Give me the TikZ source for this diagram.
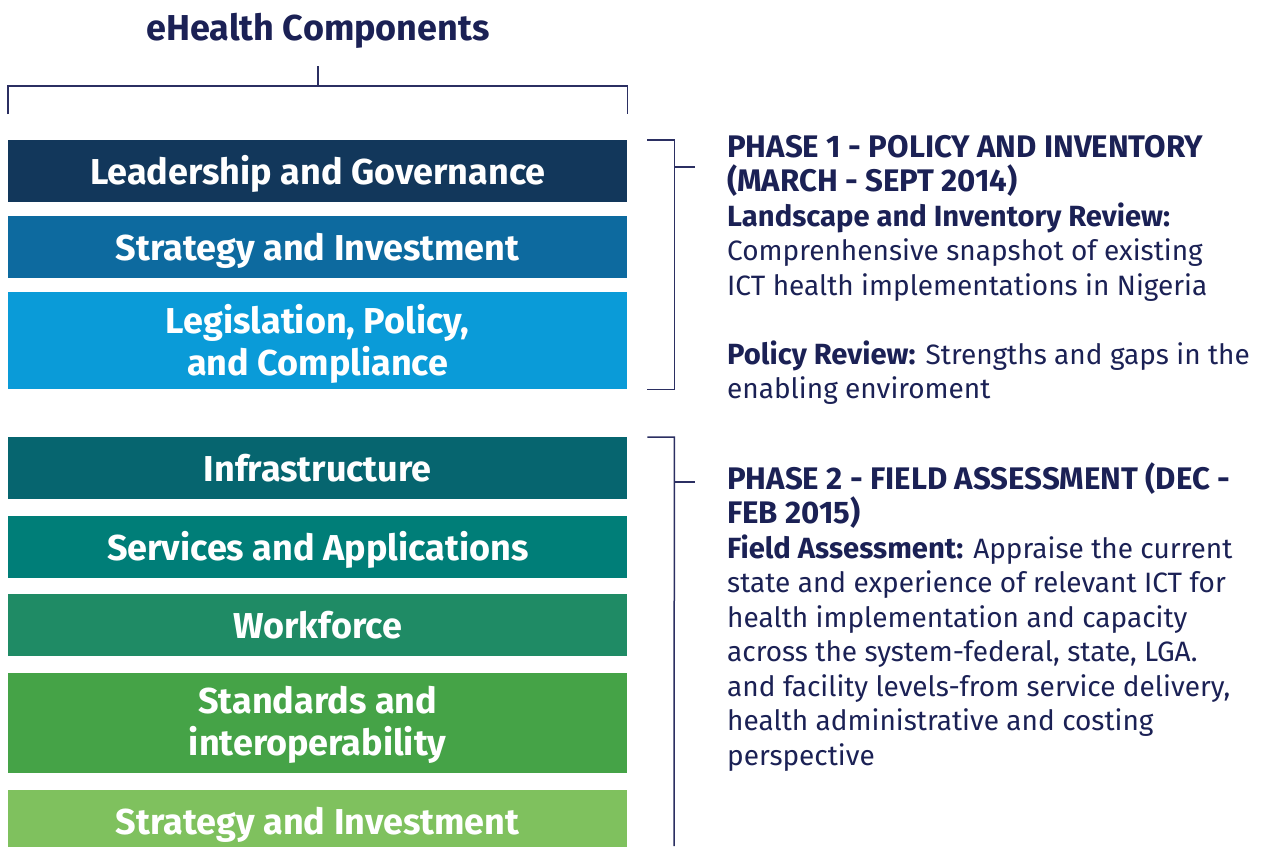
\documentclass[tikz,border=0pt]{standalone}
\usepackage{fontspec}
\setmainfont{Fira Sans}
\usetikzlibrary{calc}
\definecolor{navy}{HTML}{1B2155}
\definecolor{lineclr}{HTML}{2B2F62}
\definecolor{cA}{HTML}{12375B}
\definecolor{cB}{HTML}{0D6A9F}
\definecolor{cC}{HTML}{0A9BD8}
\definecolor{cD}{HTML}{06656F}
\definecolor{cE}{HTML}{007E78}
\definecolor{cF}{HTML}{1F8B65}
\definecolor{cG}{HTML}{45A347}
\definecolor{cH}{HTML}{7FC15E}
\newcommand{\hd}[1]{{\fontsize{31.2}{34.45}\selectfont\bfseries #1}}
\newcommand{\bd}[1]{{\fontsize{29.2}{34.45}\selectfont\bfseries #1}}
\begin{document}
\begin{tikzpicture}[x=1pt,y=-1pt,
  box/.style={anchor=north west, minimum width=619pt, inner sep=0pt, text=white,
    font=\bfseries\fontsize{36}{42}\selectfont, align=center},
  onebox/.style={box, minimum height=62pt, text height=26pt, text depth=0pt},
  bline/.style={draw=lineclr, line width=1.5pt},
  phase/.style={anchor=north west, inner sep=0pt, align=left, text=navy,
    font=\fontsize{28}{34.45}\selectfont}
]
\useasboundingbox (0,0) rectangle (1268,846);
\fill[white] (0,0) rectangle (1268,846);

\node[anchor=base, text=navy, font=\bfseries\fontsize{36}{40}\selectfont, inner sep=0pt] (title) at (318,40) {eHealth Components};

\node[onebox, fill=cA] (b1) at (8,140) {Leadership and Governance};
\node[onebox, fill=cB] (b2) at (8,216) {Strategy and Investment};
\node[box, fill=cC, minimum height=97pt] (b3) at (8,292) {\rule{0pt}{36pt}Legislation, Policy,\\and Compliance};
\node[box, fill=cG, minimum height=100pt] (b7) at (8,673) {\rule{0pt}{31pt}Standards and\\interoperability};
\node[onebox, fill=cD] (b4) at (8,437) {Infrastructure};
\node[onebox, fill=cE] (b5) at (8,516) {Services and Applications};
\node[onebox, fill=cF] (b6) at (8,594) {Workforce};
\node[onebox, fill=cH] (b8) at (8,790) {Strategy and Investment};

% top bracket
\coordinate (tt) at (318,66);
\coordinate (tm) at (318,86);
\draw[bline] (tt) -- (tm);
\draw[bline] ($(b1.north west)+(0,-26)$) |- (tm) -| ($(b1.north east)+(0,-26)$);

% phase 1 bracket
\coordinate (p1a) at ($(b1.north east)+(20,0)$);
\coordinate (p1b) at ($(b3.south east)+(20,0)$);
\draw[bline] (p1a) -- ++(27,0) |- (p1b);
\coordinate (p1t) at (674,167);
\draw[bline] (p1t) -- ++(21,0);

% phase 2 bracket
\coordinate (p2a) at ($(b4.north east)+(20,0)$);
\coordinate (p2b) at (674,846);
\draw[bline] (p2a) -- ++(27,0) -- (p2b);
\coordinate (p2t) at (674,482);
\draw[bline] (p2t) -- ++(21,0);

\node[phase] (ph1) at (727,132.3) {\rule{0pt}{25pt}\hd{PHASE 1 - POLICY AND INVENTORY}\\
\hd{(MARCH - SEPT 2014)}\\
\bd{Landscape and Inventory Review:}\\
Comprenhensive snapshot of existing\\
ICT health implementations in Nigeria\\[34.45pt]
\bd{Policy Review:} Strengths and gaps in the\\
enabling enviroment};

\node[phase] (ph2) at (727,462.5) {\rule{0pt}{25pt}\hd{PHASE 2 - FIELD ASSESSMENT (DEC -}\\
\hd{FEB 2015)}\\
\bd{Field Assessment:} Appraise the current\\
state and experience of relevant ICT for\\
health implementation and capacity\\
across the system-federal, state, LGA.\\
and facility levels-from service delivery,\\
health administrative and costing\\
perspective};
\end{tikzpicture}
\end{document}
